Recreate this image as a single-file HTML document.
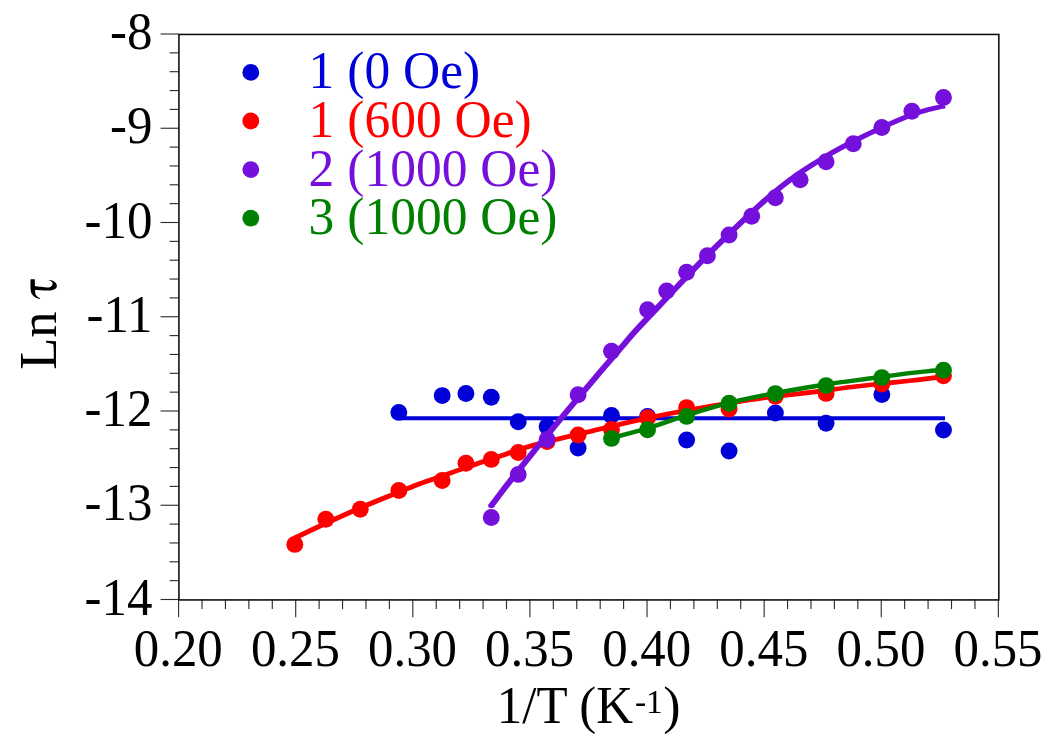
<!DOCTYPE html>
<html lang="en"><head><meta charset="utf-8"><title>Ln tau vs 1/T</title>
<style>
html,body{margin:0;padding:0;background:#fff;}
body{width:1060px;height:750px;overflow:hidden;}
svg{display:block;will-change:transform;}
text{font-family:"Liberation Serif", serif;}
</style></head><body>
<svg width="1060" height="750" viewBox="0 0 1060 750">
<g stroke="#2b2b2b" stroke-width="1.12" fill="none">
<line x1="178.60" y1="599.50" x2="178.60" y2="617.30"/>
<line x1="202.02" y1="599.50" x2="202.02" y2="609.10"/>
<line x1="225.44" y1="599.50" x2="225.44" y2="609.10"/>
<line x1="248.86" y1="599.50" x2="248.86" y2="609.10"/>
<line x1="272.29" y1="599.50" x2="272.29" y2="609.10"/>
<line x1="295.71" y1="599.50" x2="295.71" y2="617.30"/>
<line x1="319.13" y1="599.50" x2="319.13" y2="609.10"/>
<line x1="342.55" y1="599.50" x2="342.55" y2="609.10"/>
<line x1="365.97" y1="599.50" x2="365.97" y2="609.10"/>
<line x1="389.39" y1="599.50" x2="389.39" y2="609.10"/>
<line x1="412.81" y1="599.50" x2="412.81" y2="617.30"/>
<line x1="436.24" y1="599.50" x2="436.24" y2="609.10"/>
<line x1="459.66" y1="599.50" x2="459.66" y2="609.10"/>
<line x1="483.08" y1="599.50" x2="483.08" y2="609.10"/>
<line x1="506.50" y1="599.50" x2="506.50" y2="609.10"/>
<line x1="529.92" y1="599.50" x2="529.92" y2="617.30"/>
<line x1="553.34" y1="599.50" x2="553.34" y2="609.10"/>
<line x1="576.76" y1="599.50" x2="576.76" y2="609.10"/>
<line x1="600.19" y1="599.50" x2="600.19" y2="609.10"/>
<line x1="623.61" y1="599.50" x2="623.61" y2="609.10"/>
<line x1="647.03" y1="599.50" x2="647.03" y2="617.30"/>
<line x1="670.45" y1="599.50" x2="670.45" y2="609.10"/>
<line x1="693.87" y1="599.50" x2="693.87" y2="609.10"/>
<line x1="717.29" y1="599.50" x2="717.29" y2="609.10"/>
<line x1="740.71" y1="599.50" x2="740.71" y2="609.10"/>
<line x1="764.14" y1="599.50" x2="764.14" y2="617.30"/>
<line x1="787.56" y1="599.50" x2="787.56" y2="609.10"/>
<line x1="810.98" y1="599.50" x2="810.98" y2="609.10"/>
<line x1="834.40" y1="599.50" x2="834.40" y2="609.10"/>
<line x1="857.82" y1="599.50" x2="857.82" y2="609.10"/>
<line x1="881.24" y1="599.50" x2="881.24" y2="617.30"/>
<line x1="904.66" y1="599.50" x2="904.66" y2="609.10"/>
<line x1="928.09" y1="599.50" x2="928.09" y2="609.10"/>
<line x1="951.51" y1="599.50" x2="951.51" y2="609.10"/>
<line x1="974.93" y1="599.50" x2="974.93" y2="609.10"/>
<line x1="998.35" y1="599.50" x2="998.35" y2="617.30"/>
<line x1="160.60" y1="34.00" x2="178.60" y2="34.00"/>
<line x1="169.60" y1="52.85" x2="178.60" y2="52.85"/>
<line x1="169.60" y1="71.70" x2="178.60" y2="71.70"/>
<line x1="169.60" y1="90.55" x2="178.60" y2="90.55"/>
<line x1="169.60" y1="109.40" x2="178.60" y2="109.40"/>
<line x1="160.60" y1="128.25" x2="178.60" y2="128.25"/>
<line x1="169.60" y1="147.10" x2="178.60" y2="147.10"/>
<line x1="169.60" y1="165.95" x2="178.60" y2="165.95"/>
<line x1="169.60" y1="184.80" x2="178.60" y2="184.80"/>
<line x1="169.60" y1="203.65" x2="178.60" y2="203.65"/>
<line x1="160.60" y1="222.50" x2="178.60" y2="222.50"/>
<line x1="169.60" y1="241.35" x2="178.60" y2="241.35"/>
<line x1="169.60" y1="260.20" x2="178.60" y2="260.20"/>
<line x1="169.60" y1="279.05" x2="178.60" y2="279.05"/>
<line x1="169.60" y1="297.90" x2="178.60" y2="297.90"/>
<line x1="160.60" y1="316.75" x2="178.60" y2="316.75"/>
<line x1="169.60" y1="335.60" x2="178.60" y2="335.60"/>
<line x1="169.60" y1="354.45" x2="178.60" y2="354.45"/>
<line x1="169.60" y1="373.30" x2="178.60" y2="373.30"/>
<line x1="169.60" y1="392.15" x2="178.60" y2="392.15"/>
<line x1="160.60" y1="411.00" x2="178.60" y2="411.00"/>
<line x1="169.60" y1="429.85" x2="178.60" y2="429.85"/>
<line x1="169.60" y1="448.70" x2="178.60" y2="448.70"/>
<line x1="169.60" y1="467.55" x2="178.60" y2="467.55"/>
<line x1="169.60" y1="486.40" x2="178.60" y2="486.40"/>
<line x1="160.60" y1="505.25" x2="178.60" y2="505.25"/>
<line x1="169.60" y1="524.10" x2="178.60" y2="524.10"/>
<line x1="169.60" y1="542.95" x2="178.60" y2="542.95"/>
<line x1="169.60" y1="561.80" x2="178.60" y2="561.80"/>
<line x1="169.60" y1="580.65" x2="178.60" y2="580.65"/>
<line x1="160.60" y1="599.50" x2="178.60" y2="599.50"/>
</g>
<rect x="178.93" y="34.45" width="819.90" height="565.48" fill="none" stroke="#0a0a0a" stroke-width="1.55"/>
<g font-size="52" fill="#000">
<text transform="translate(152.5 49.00) scale(0.98 1)" text-anchor="end">-8</text>
<text transform="translate(152.5 143.25) scale(0.98 1)" text-anchor="end">-9</text>
<text transform="translate(152.5 237.50) scale(0.98 1)" text-anchor="end">-10</text>
<text transform="translate(152.5 331.75) scale(0.98 1)" text-anchor="end">-11</text>
<text transform="translate(152.5 426.00) scale(0.98 1)" text-anchor="end">-12</text>
<text transform="translate(152.5 520.25) scale(0.98 1)" text-anchor="end">-13</text>
<text transform="translate(152.5 614.50) scale(0.98 1)" text-anchor="end">-14</text>
<text transform="translate(178.30 665.8) scale(0.978 1)" text-anchor="middle">0.20</text>
<text transform="translate(295.41 665.8) scale(0.978 1)" text-anchor="middle">0.25</text>
<text transform="translate(412.51 665.8) scale(0.978 1)" text-anchor="middle">0.30</text>
<text transform="translate(529.62 665.8) scale(0.978 1)" text-anchor="middle">0.35</text>
<text transform="translate(646.73 665.8) scale(0.978 1)" text-anchor="middle">0.40</text>
<text transform="translate(763.84 665.8) scale(0.978 1)" text-anchor="middle">0.45</text>
<text transform="translate(880.94 665.8) scale(0.978 1)" text-anchor="middle">0.50</text>
<text transform="translate(998.05 665.8) scale(0.978 1)" text-anchor="middle">0.55</text>
</g>
<text transform="translate(496.8 722.8) scale(0.98 1)" font-size="52" fill="#000">1/T (K</text>
<text x="634.9" y="713.2" font-size="33.5" fill="#000">-1</text>
<text x="663.3" y="722.8" font-size="52" fill="#000">)</text>
<text transform="translate(56 369.8) rotate(-90) scale(1.012 1)" font-size="52" fill="#000">Ln</text>
<path d="M30.50 279.17 L34.82 279.17 L34.93 285.88 C35.99 286.04 39.37 286.58 41.32 286.84 C43.28 287.11 45.23 287.43 46.65 287.48 C48.07 287.54 48.96 287.48 49.85 287.16 C50.74 286.84 51.52 286.19 51.98 285.57 C52.44 284.94 52.64 284.05 52.62 283.43 C52.60 282.81 52.32 282.26 51.88 281.83 C51.43 281.41 50.58 281.14 49.96 280.87 C49.34 280.61 48.45 280.34 48.14 280.23 C48.70 280.25 50.45 280.14 51.45 280.34 C52.44 280.55 53.32 280.89 54.12 281.46 C54.91 282.03 55.79 283.00 56.25 283.75 C56.71 284.51 56.93 285.25 56.89 285.99 C56.84 286.74 56.49 287.63 55.98 288.23 C55.47 288.83 54.74 289.25 53.85 289.62 C52.96 289.98 51.85 290.26 50.65 290.42 C49.45 290.58 48.21 290.60 46.65 290.58 C45.10 290.55 43.25 290.34 41.32 290.26 C39.39 290.17 36.12 290.08 35.09 290.04 C35.11 290.54 35.08 292.17 35.25 293.03 C35.41 293.88 35.65 294.50 36.10 295.16 C36.54 295.82 37.24 296.46 37.91 296.97 C38.59 297.49 39.78 298.04 40.15 298.25 C40.10 298.36 40.30 298.89 39.83 298.89 C39.36 298.89 38.25 298.62 37.32 298.25 C36.40 297.88 35.17 297.31 34.29 296.65 C33.41 296.00 32.62 295.20 32.05 294.31 C31.48 293.42 31.13 292.71 30.87 291.32 C30.62 289.94 30.56 288.02 30.50 285.99 C30.44 283.97 30.50 280.31 30.50 279.17Z" fill="#000"/>
<circle cx="250.8" cy="72.40" r="8.4" fill="#0000d8"/>
<text transform="translate(308.6 88.40) scale(0.991 1)" font-size="52" fill="#0000d8">1 (0 Oe)</text>
<circle cx="250.8" cy="121.00" r="8.4" fill="#ff0000"/>
<text transform="translate(308.6 137.00) scale(0.991 1)" font-size="52" fill="#ff0000">1 (600 Oe)</text>
<circle cx="250.8" cy="169.60" r="8.4" fill="#7510dc"/>
<text transform="translate(308.6 185.60) scale(0.991 1)" font-size="52" fill="#7510dc">2 (1000 Oe)</text>
<circle cx="250.8" cy="218.20" r="8.4" fill="#008000"/>
<text transform="translate(308.6 234.20) scale(0.991 1)" font-size="52" fill="#008000">3 (1000 Oe)</text>
<g transform="scale(1.350 1)"><path d="M296.30 418.20 L700.00 418.20" fill="none" stroke="#0000d8" stroke-width="4.10" stroke-linejoin="round"/></g>
<g fill="#0000d8">
<circle cx="398.83" cy="412.40" r="8.45"/>
<circle cx="442.17" cy="395.60" r="8.45"/>
<circle cx="465.93" cy="393.50" r="8.45"/>
<circle cx="491.28" cy="397.30" r="8.45"/>
<circle cx="518.23" cy="421.70" r="8.45"/>
<circle cx="547.10" cy="426.60" r="8.45"/>
<circle cx="578.10" cy="448.00" r="8.45"/>
<circle cx="611.50" cy="415.50" r="8.45"/>
<circle cx="647.56" cy="416.50" r="8.45"/>
<circle cx="686.63" cy="440.00" r="8.45"/>
<circle cx="729.09" cy="451.00" r="8.45"/>
<circle cx="775.38" cy="413.00" r="8.45"/>
<circle cx="826.08" cy="423.30" r="8.45"/>
<circle cx="881.84" cy="394.50" r="8.45"/>
<circle cx="943.48" cy="430.00" r="8.45"/>
</g>
<g transform="scale(1.350 1)"><path d="M218.37 538.00 C222.22 535.55 233.35 528.35 241.48 523.30 C249.62 518.25 258.20 512.88 267.19 507.70 C276.17 502.52 288.09 496.22 295.41 492.20 C302.73 488.18 305.83 486.27 311.11 483.60 C316.40 480.93 322.67 478.30 327.11 476.20 C331.56 474.10 333.20 473.17 337.78 471.00 C342.36 468.83 348.67 465.90 354.59 463.20 C360.52 460.50 366.59 457.80 373.33 454.80 C380.07 451.80 384.42 449.10 395.04 445.20 C405.65 441.30 425.10 435.27 437.04 431.40 C448.98 427.53 456.79 424.97 466.67 422.00 C476.54 419.03 486.42 416.23 496.30 413.60 C506.17 410.97 517.28 408.23 525.93 406.20 C534.57 404.17 541.36 402.80 548.15 401.40 C554.94 400.00 559.26 399.10 566.67 397.80 C574.07 396.50 585.12 394.82 592.59 393.60 C600.06 392.38 605.10 391.60 611.48 390.50 C617.86 389.40 623.94 388.13 630.89 387.00 C637.83 385.87 645.74 384.78 653.15 383.70 C660.56 382.62 669.17 381.43 675.33 380.50 C681.50 379.57 686.25 378.72 690.15 378.10 C694.04 377.48 697.28 377.02 698.70 376.80" fill="none" stroke="#ff0000" stroke-width="4.70" stroke-linejoin="round"/></g>
<g fill="#ff0000">
<circle cx="294.81" cy="544.40" r="8.45"/>
<circle cx="325.83" cy="519.20" r="8.45"/>
<circle cx="360.30" cy="509.20" r="8.45"/>
<circle cx="398.83" cy="490.50" r="8.45"/>
<circle cx="442.17" cy="480.50" r="8.45"/>
<circle cx="465.93" cy="463.30" r="8.45"/>
<circle cx="491.28" cy="459.40" r="8.45"/>
<circle cx="518.23" cy="452.50" r="8.45"/>
<circle cx="547.10" cy="441.50" r="8.45"/>
<circle cx="578.10" cy="435.00" r="8.45"/>
<circle cx="611.50" cy="429.40" r="8.45"/>
<circle cx="647.56" cy="417.80" r="8.45"/>
<circle cx="686.63" cy="407.60" r="8.45"/>
<circle cx="729.09" cy="409.00" r="8.45"/>
<circle cx="775.38" cy="396.30" r="8.45"/>
<circle cx="826.08" cy="393.40" r="8.45"/>
<circle cx="881.84" cy="384.10" r="8.45"/>
<circle cx="943.48" cy="375.70" r="8.45"/>
</g>
<ellipse cx="491.3" cy="505.8" rx="3.2" ry="2.4" fill="#7510dc"/>
<g transform="scale(1.350 1)"><path d="M363.93 505.80 C365.33 503.27 369.07 496.40 372.37 490.60 C375.67 484.80 379.26 478.55 383.70 471.00 C388.15 463.45 393.86 453.85 399.04 445.30 C404.21 436.75 409.64 427.95 414.74 419.70 C419.84 411.45 424.48 404.03 429.63 395.80 C434.78 387.57 440.69 378.12 445.63 370.30 C450.57 362.48 454.93 355.67 459.26 348.90 C463.59 342.13 467.10 336.43 471.63 329.70 C476.16 322.97 481.51 315.58 486.44 308.50 C491.38 301.42 496.32 294.25 501.26 287.20 C506.20 280.15 511.14 273.07 516.07 266.20 C521.01 259.33 525.54 253.13 530.89 246.00 C536.23 238.87 542.80 230.27 548.15 223.40 C553.49 216.53 558.43 210.32 562.96 204.80 C567.49 199.28 570.40 195.63 575.33 190.30 C580.27 184.97 586.51 178.47 592.59 172.80 C598.68 167.13 605.32 161.50 611.85 156.30 C618.38 151.10 624.86 146.40 631.78 141.60 C638.69 136.80 646.04 131.98 653.33 127.50 C660.63 123.02 669.79 117.70 675.56 114.70 C681.32 111.70 683.88 110.98 687.93 109.50 C691.98 108.02 697.86 106.42 699.85 105.80" fill="none" stroke="#7510dc" stroke-width="4.90" stroke-linejoin="round"/></g>
<g fill="#7510dc">
<circle cx="491.28" cy="517.50" r="8.45"/>
<circle cx="518.23" cy="474.40" r="8.45"/>
<circle cx="547.10" cy="439.50" r="8.45"/>
<circle cx="578.10" cy="394.80" r="8.45"/>
<circle cx="611.50" cy="351.30" r="8.45"/>
<circle cx="647.56" cy="309.80" r="8.45"/>
<circle cx="666.70" cy="291.00" r="8.45"/>
<circle cx="686.63" cy="272.20" r="8.45"/>
<circle cx="707.41" cy="255.70" r="8.45"/>
<circle cx="729.09" cy="235.00" r="8.45"/>
<circle cx="751.72" cy="216.30" r="8.45"/>
<circle cx="775.38" cy="197.80" r="8.45"/>
<circle cx="800.14" cy="179.70" r="8.45"/>
<circle cx="826.08" cy="161.80" r="8.45"/>
<circle cx="853.28" cy="143.80" r="8.45"/>
<circle cx="881.84" cy="127.50" r="8.45"/>
<circle cx="911.87" cy="111.30" r="8.45"/>
<circle cx="943.48" cy="97.50" r="8.45"/>
</g>
<g transform="scale(1.350 1)"><path d="M452.52 438.00 C456.99 436.42 470.06 432.25 479.33 428.50 C488.60 424.75 498.07 419.75 508.15 415.50 C518.22 411.25 528.79 406.72 539.78 403.00 C550.77 399.28 562.12 396.28 574.07 393.20 C586.02 390.12 602.01 386.55 611.48 384.50 C620.95 382.45 623.94 382.18 630.89 380.90 C637.83 379.62 645.74 378.13 653.15 376.80 C660.56 375.47 669.17 373.90 675.33 372.90 C681.50 371.90 686.25 371.32 690.15 370.80 C694.04 370.28 697.28 369.97 698.70 369.80" fill="none" stroke="#008000" stroke-width="4.40" stroke-linejoin="round"/></g>
<g fill="#008000">
<circle cx="611.50" cy="438.40" r="8.45"/>
<circle cx="647.56" cy="429.80" r="8.45"/>
<circle cx="686.63" cy="416.40" r="8.45"/>
<circle cx="729.09" cy="403.20" r="8.45"/>
<circle cx="775.38" cy="393.60" r="8.45"/>
<circle cx="826.08" cy="385.60" r="8.45"/>
<circle cx="881.84" cy="377.60" r="8.45"/>
<circle cx="943.48" cy="370.30" r="8.45"/>
</g>
</svg>
</body></html>
